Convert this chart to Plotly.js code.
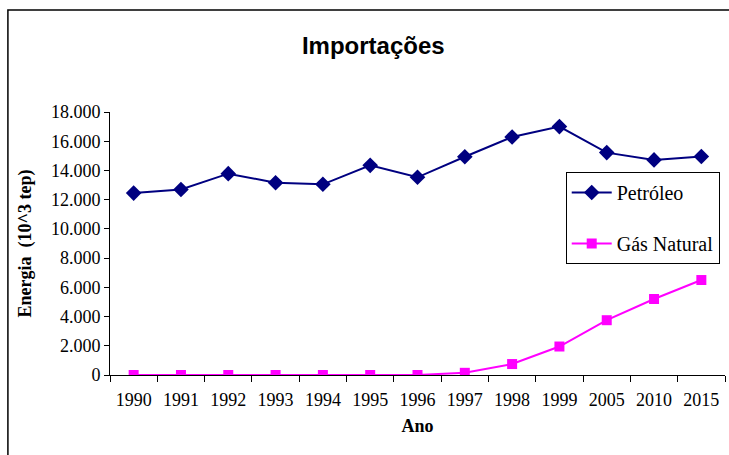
<!DOCTYPE html>
<html>
<head>
<meta charset="utf-8">
<script src="https://cdn.plot.ly/plotly-3.0.1.min.js"></script>
<style>
  body { margin: 0; background: #fff; overflow: hidden; }
  #chart { width: 729px; height: 455px; }
</style>
</head>
<body>
<div id="chart"></div>
<script>
// Data (10^3 tep)
const anos = ['1990', '1991', '1992', '1993', '1994', '1995', '1996',
              '1997', '1998', '1999', '2005', '2010', '2015'];
const petroleo = [12450, 12700, 13780, 13160, 13050, 14350, 13530,
                  14940, 16290, 17000, 15220, 14720, 14950];
const gasNatural = [0, 0, 0, 0, 0, 0, 0, 150, 750, 1950, 3750, 5200, 6500];
const yTicks = [0, 2000, 4000, 6000, 8000, 10000, 12000, 14000, 16000, 18000];

const serif = 'Liberation Serif';

function buildTraces() {
    return [
        {
            x: anos, y: petroleo, name: 'Petróleo',
            type: 'scatter', mode: 'lines+markers',
            legendgroup: 'a',
            line: { color: '#000080', width: 2 },
            marker: { symbol: 'diamond', size: 12, color: '#000080' }
        },
        {
            x: anos, y: gasNatural, name: 'Gás Natural',
            type: 'scatter', mode: 'lines+markers',
            legendgroup: 'b',
            line: { color: '#FF00FF', width: 2 },
            marker: { symbol: 'square', size: 10, color: '#FF00FF' }
        }
    ];
}

function buildLayout() {
    return {
        width: 729, height: 455,
        margin: { l: 110, r: 4, t: 112, b: 80 },
        paper_bgcolor: '#fff', plot_bgcolor: '#fff',
        separators: ',.',
        showlegend: true,
        title: {
            text: '<b>Importações</b>',
            font: { family: 'Liberation Sans', size: 24, color: '#000' },
            x: 0.512, xref: 'container', xanchor: 'center',
            y: 0.9, yref: 'container', yanchor: 'middle'
        },
        xaxis: {
            type: 'category',
            range: [-0.5, 12.5],
            showgrid: false, zeroline: false,
            showline: true, linecolor: '#000', linewidth: 1,
            ticks: 'outside', tickson: 'boundaries', ticklen: 6, tickcolor: '#000',
            ticklabelstandoff: 8,
            tickfont: { family: serif, size: 18, color: '#000' },
            title: { text: '<b>Ano</b>', font: { family: serif, size: 18, color: '#000' }, standoff: 10 }
        },
        yaxis: {
            range: [0, 18000],
            tickvals: yTicks, tickformat: ',d',
            showgrid: false, zeroline: false,
            showline: true, linecolor: '#000', linewidth: 1,
            ticks: 'outside', ticklen: 5, tickcolor: '#000',
            tickfont: { family: serif, size: 18, color: '#000' },
            title: { text: '<b>Energia  (10^3 tep)</b>', font: { family: serif, size: 18, color: '#000' }, standoff: 14 }
        },
        legend: {
            x: 0.741, xanchor: 'left', y: 0.772, yanchor: 'top',
            bordercolor: '#000', borderwidth: 1, bgcolor: '#fff',
            font: { family: serif, size: 20, color: '#000' },
            itemwidth: 40,
            traceorder: 'grouped', tracegroupgap: 22
        },
        shapes: [{
            type: 'rect', xref: 'paper', yref: 'paper',
            x0: -0.166, x1: 1.2, y0: -0.5, y1: 1.388,
            line: { color: '#000', width: 1.5 }, fillcolor: 'rgba(0,0,0,0)'
        }]
    };
}

Plotly.newPlot('chart', buildTraces(), buildLayout(), { displayModeBar: false, staticPlot: true });
</script>
</body>
</html>
